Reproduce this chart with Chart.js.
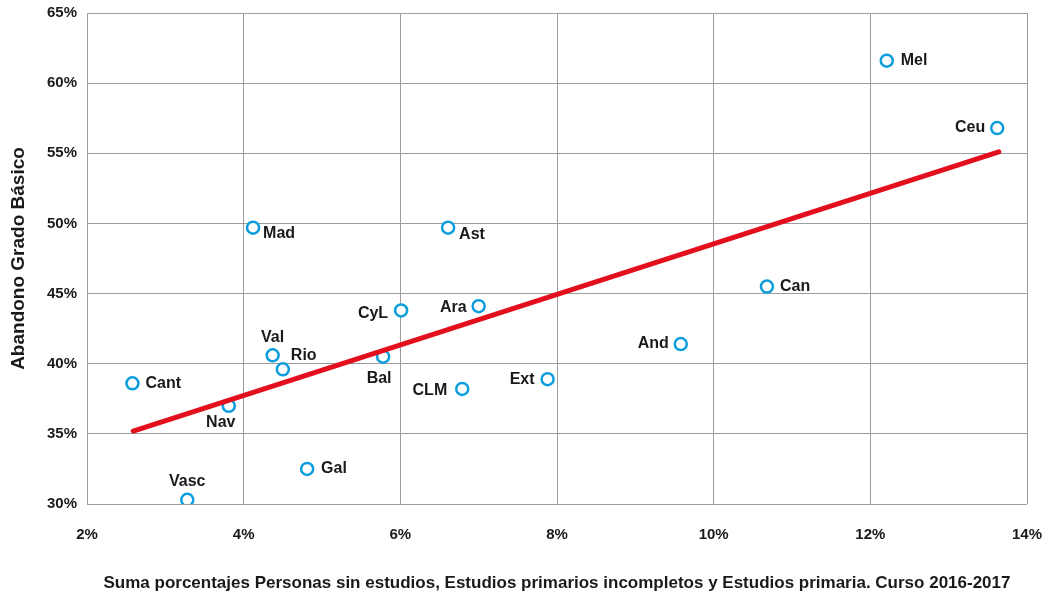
<!DOCTYPE html>
<html>
<head>
<meta charset="utf-8">
<script src="https://cdn.jsdelivr.net/npm/chart.js@4.4.0/dist/chart.umd.min.js"></script>
<style>
  html, body { margin: 0; padding: 0; background: #fff; }
  #wrap { width: 1044px; height: 593px; position: relative; }
</style>
</head>
<body>
<div id="wrap"><canvas id="c"></canvas></div>
<script>
// Data
const regions = ["Mel","Ceu","Mad","Ast","Can","CyL","Ara","And","Bal","Ext","CLM","Val","Rio","Cant","Nav","Gal","Vasc"];
const xValues = [12.21, 13.62, 4.12, 6.61, 10.68, 6.01, 7.00, 9.58, 5.78, 7.88, 6.79, 4.37, 4.50, 2.58, 3.81, 4.81, 3.28];
const yValues = [61.6, 56.8, 49.7, 49.7, 45.5, 43.8, 44.1, 41.4, 40.5, 38.9, 38.2, 40.6, 39.6, 38.6, 37.0, 32.5, 30.3];
const trendX = [2.59, 13.64];
const trendY = [35.2, 55.1];
const xTicks = [2, 4, 6, 8, 10, 12, 14];
const yTicks = [30, 35, 40, 45, 50, 55, 60, 65];

// Label placement (style): [dx, dy, textAlign]
const labelPlacement = [
  [14, 0, "left"], [-12, 0, "right"], [10, 6, "left"], [11, 7, "left"], [13, 0, "left"],
  [-13, 3, "right"], [-12, 1, "right"], [-12, 0, "right"], [-4, 22, "center"], [-13, 0, "right"],
  [-15, 2, "right"], [0, -18, "center"], [8, -14, "left"], [13, 0, "left"], [-8, 17, "center"],
  [14, 0, "left"], [0, -18, "center"]
];

const FONT = "'Liberation Sans', Arial, Helvetica, sans-serif";
const GRID = "#9d9d9d";

const labelPlugin = {
  id: "pointLabels",
  afterDatasetsDraw(chart) {
    const meta = chart.getDatasetMeta(1);
    const ctx = chart.ctx;
    ctx.save();
    ctx.font = "bold 16px " + FONT;
    ctx.fillStyle = "#1a1a1a";
    ctx.textBaseline = "middle";
    meta.data.forEach((el, i) => {
      const p = labelPlacement[i];
      ctx.textAlign = p[2];
      ctx.fillText(regions[i], el.x + p[0], el.y + p[1]);
    });
    ctx.restore();
  }
};

new Chart(document.getElementById("c"), {
  data: {
    datasets: [
      {
        type: "line",
        data: trendX.map((x, i) => ({ x: x, y: trendY[i] })),
        borderColor: "#e30f1c",
        borderWidth: 5,
        borderCapStyle: "round",
        pointRadius: 0,
        fill: false
      },
      {
        type: "scatter",
        data: xValues.map((x, i) => ({ x: x, y: yValues[i] })),
        borderColor: "#0b9ddc",
        backgroundColor: "#ffffff",
        borderWidth: 2.5,
        pointRadius: 6,
        pointHoverRadius: 6
      }
    ]
  },
  options: {
    responsive: true,
    maintainAspectRatio: false,
    animation: false,
    layout: { padding: { top: 13, right: 17, left: 0, bottom: 0 } },
    plugins: { legend: { display: false }, tooltip: { enabled: false } },
    scales: {
      x: {
        type: "linear",
        min: 2, max: 14,
        afterBuildTicks(scale) { scale.ticks = xTicks.map(v => ({ value: v })); },
        afterFit(scale) { scale.height = 89; scale.paddingLeft = 0; scale.paddingRight = 0; },
        grid: { color: GRID, lineWidth: 1, drawTicks: false },
        border: { display: false },
        ticks: {
          padding: 22,
          color: "#1a1a1a",
          font: { family: FONT, size: 15, weight: "bold" },
          callback: v => v + "%"
        },
        title: {
          display: true,
          text: "Suma porcentajes Personas sin estudios, Estudios primarios incompletos y Estudios primaria. Curso 2016-2017",
          color: "#1a1a1a",
          font: { family: FONT, size: 17, weight: "bold" },
          padding: { top: 0, bottom: -1 }
        }
      },
      y: {
        type: "linear",
        min: 30, max: 65,
        afterBuildTicks(scale) { scale.ticks = yTicks.map(v => ({ value: v })); },
        afterFit(scale) { scale.width = 87; scale.paddingTop = 0; scale.paddingBottom = 0; },
        grid: { color: GRID, lineWidth: 1, drawTicks: false },
        border: { display: false },
        ticks: {
          padding: 10,
          color: "#1a1a1a",
          font: { family: FONT, size: 15, weight: "bold" },
          callback: v => v + "%"
        },
        title: {
          display: true,
          text: "Abandono Grado Básico",
          color: "#1a1a1a",
          font: { family: FONT, size: 19, weight: "bold" },
          padding: { top: 7, bottom: 0 }
        }
      }
    }
  },
  plugins: [labelPlugin]
});
</script>
</body>
</html>
